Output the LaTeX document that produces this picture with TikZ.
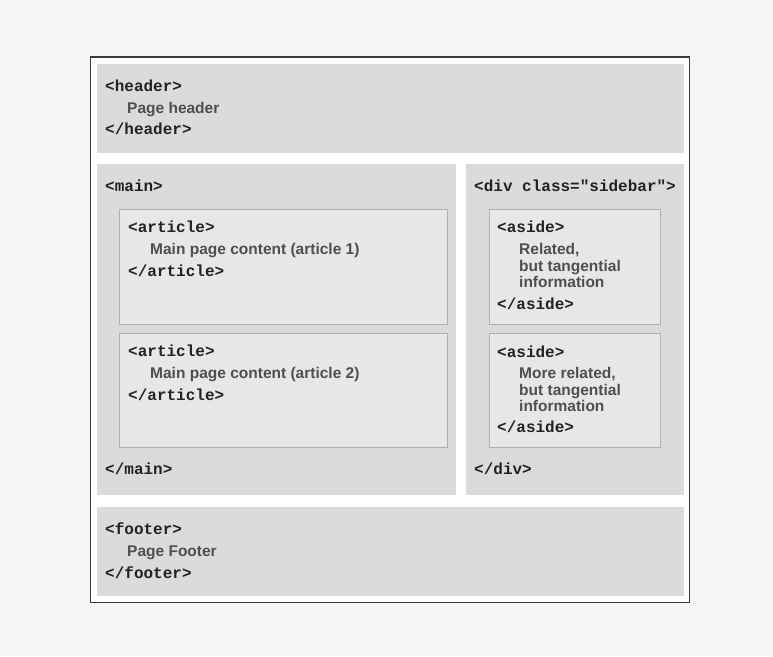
\documentclass[tikz,border=0pt]{standalone}
\usepackage{fontspec}
\setmainfont{Liberation Sans}
\setmonofont{Liberation Mono}
\usetikzlibrary{positioning}
\definecolor{pagebg}{HTML}{F5F5F7}
\definecolor{framecol}{HTML}{3C3C3E}
\definecolor{blkgray}{HTML}{DADBDC}
\definecolor{inrgray}{HTML}{E6E7E8}
\definecolor{inrline}{HTML}{AEAFB0}
\definecolor{tagcol}{HTML}{222222}
\definecolor{txtcol}{HTML}{4E4E4E}

\begin{document}
\begin{tikzpicture}[x=1pt, y=-1pt,
  frame/.style={rectangle, draw=framecol, line width=1.2pt, fill=white, anchor=north west, inner sep=0pt, outer sep=0pt},
  blk/.style={rectangle, fill=blkgray, anchor=north west, inner sep=0pt, outer sep=0pt},
  inr/.style={rectangle, draw=inrline, line width=0.8pt, fill=inrgray, anchor=north west, inner sep=0pt, outer sep=0pt},
  tag/.style={anchor=base west, inner sep=0pt, text=tagcol, font=\ttfamily\bfseries\fontsize{16}{18}\selectfont},
  txt/.style={anchor=base west, inner sep=0pt, text=txtcol, font=\bfseries\fontsize{15.5}{16.5}\selectfont}
]
\useasboundingbox[fill=pagebg] (0,0) rectangle (773,656);

\node[frame, minimum width=599pt, minimum height=545.5pt] at (90.5,57) (frm) {};

\node[blk, minimum width=587pt, minimum height=89pt]   at (96.5,63.5) (hd) {};
\node[blk, minimum width=359pt, minimum height=331pt]  at (96.5,164)  (mn) {};
\node[blk, minimum width=217.5pt, minimum height=331pt] at (466,164)  (sb) {};
\node[blk, minimum width=587pt, minimum height=89.5pt] at (96.5,506.5) (ft) {};

\node[inr, minimum width=328pt, minimum height=115pt]   at (119.5,209.5) (art1) {};
\node[inr, minimum width=328pt, minimum height=114.5pt] at (119.5,333)   (art2) {};
\node[inr, minimum width=171pt, minimum height=115pt]   at (489,209.5)   (asd1) {};
\node[inr, minimum width=171pt, minimum height=114.5pt] at (489,333)     (asd2) {};

\node[tag] at (105,91)  (hdo) {<header>};
\node[txt] at (127,113) (hdt) {Page header};
\node[tag] at (105,134) (hdc) {</header>};

\node[tag] at (105,191) (mno) {<main>};
\node[tag] at (128,232) (a1o) {<article>};
\node[txt] at (150,254) (a1t) {Main page content (article 1)};
\node[tag] at (128,276) (a1c) {</article>};
\node[tag] at (128,356) (a2o) {<article>};
\node[txt] at (150,378) (a2t) {Main page content (article 2)};
\node[tag] at (128,400) (a2c) {</article>};
\node[tag] at (105,474) (mnc) {</main>};

\node[tag] at (474,191) (sbo) {<div class="sidebar">};
\node[tag] at (497,232) (s1o) {<aside>};
\node[txt] at (519,254) (s1a) {Related,};
\node[txt] at (519,271) (s1b) {but tangential};
\node[txt] at (519,287) (s1c) {information};
\node[tag] at (497,309) (s1e) {</aside>};
\node[tag] at (497,357) (s2o) {<aside>};
\node[txt] at (519,378) (s2a) {More related,};
\node[txt] at (519,395) (s2b) {but tangential};
\node[txt] at (519,411) (s2c) {information};
\node[tag] at (497,432) (s2e) {</aside>};
\node[tag] at (474,474) (sbc) {</div>};

\node[tag] at (105,534) (fto) {<footer>};
\node[txt] at (127,556) (ftt) {Page Footer};
\node[tag] at (105,578) (ftc) {</footer>};
\end{tikzpicture}
\end{document}
